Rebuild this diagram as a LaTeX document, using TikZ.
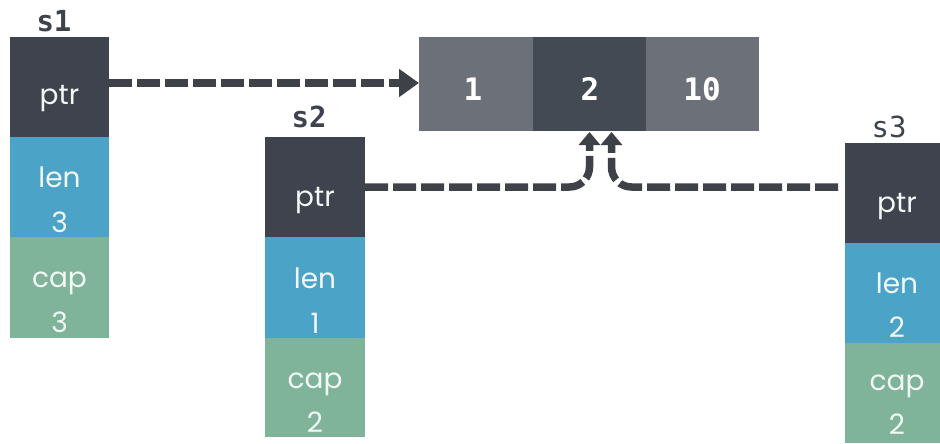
\documentclass[tikz,border=0pt]{standalone}
\usepackage{fontspec}
\setmainfont{Poppins}
\setmonofont{DejaVu Sans Mono}
\usetikzlibrary{arrows.meta}
\definecolor{ptrc}{HTML}{3E434D}
\definecolor{lenc}{HTML}{4BA3C7}
\definecolor{capc}{HTML}{7FB39A}
\definecolor{arrc}{HTML}{6B7079}
\definecolor{midc}{HTML}{444A54}
\definecolor{linec}{HTML}{3E4248}
\definecolor{txtc}{HTML}{F2F8F5}
\tikzset{
  cell/.style={rectangle, inner sep=0pt, outer sep=0pt, minimum width=100pt, minimum height=100pt, anchor=north west},
  lbl/.style={inner sep=0pt, anchor=base, text=txtc, font=\fontsize{28}{30}\selectfont},
  num/.style={inner sep=0pt, anchor=base, text=white, font=\ttfamily\bfseries\fontsize{31}{33}\selectfont},
  sname/.style={inner sep=0pt, anchor=base, text=ptrc, font=\ttfamily\bfseries\fontsize{29}{30}\selectfont},
  dl/.style={draw=linec, line width=7.5pt, dash pattern=on 23pt off 5pt},
}
\begin{document}
\begin{tikzpicture}[x=1pt,y=-1pt]
\useasboundingbox (0,0) rectangle (940,444);
\clip (0,0) rectangle (940,444);
\fill[white] (0,0) rectangle (940,444);
% array
\node[cell, fill=arrc, minimum width=114pt, minimum height=94pt] (arr1) at (419,37) {};
\node[cell, fill=midc, minimum width=113pt, minimum height=94pt] (arr2) at (533,37) {};
\node[cell, fill=arrc, minimum width=113pt, minimum height=94pt] (arr3) at (646,37) {};
\node[num] (n1) at (473,100) {1};
\node[num] (n2) at (590,100) {2};
\node[num] (n3) at (702,100) {10};
% s1
\node[sname] (l1) at (54,32) {s1};
\node[cell, fill=ptrc, minimum width=99pt] (s1p) at (10,37) {};
\node[cell, fill=lenc, minimum width=99pt] (s1l) at (10,137) {};
\node[cell, fill=capc, minimum width=99pt, minimum height=101pt] (s1c) at (10,237) {};
\node[lbl] (s1pt) at (59.5,104) {ptr};
\node[lbl] (s1lt) at (59.5,187) {len};
\node[lbl] (s1lv) at (59.5,232) {3};
\node[lbl] (s1ct) at (59.5,287) {cap};
\node[lbl] (s1cv) at (59.5,332) {3};
% s2
\node[sname] (l2) at (309,128) {s2};
\node[cell, fill=ptrc] (s2p) at (265,137) {};
\node[cell, fill=lenc, minimum height=101pt] (s2l) at (265,237) {};
\node[cell, fill=capc, minimum height=99pt] (s2c) at (265,338) {};
\node[lbl] (s2pt) at (315,206) {ptr};
\node[lbl] (s2lt) at (315,288) {len};
\node[lbl] (s2lv) at (315,333) {1};
\node[lbl] (s2ct) at (315,388) {cap};
\node[lbl] (s2cv) at (315,432) {2};
% s3
\node[sname, font=\ttfamily\fontsize{29}{30}\selectfont] (l3) at (889,137) {s3};
\node[cell, fill=ptrc] (s3p) at (845,143) {};
\node[cell, fill=lenc] (s3l) at (845,243) {};
\node[cell, fill=capc] (s3c) at (845,343) {};
\node[lbl] (s3pt) at (897,212) {ptr};
\node[lbl] (s3lt) at (897,293) {len};
\node[lbl] (s3lv) at (897,337) {2};
\node[lbl] (s3ct) at (897,390) {cap};
\node[lbl] (s3cv) at (897,434) {2};
% pointers
\coordinate (tipA) at ([yshift=-1pt]arr2.south);
\coordinate (tipB) at ([xshift=22pt,yshift=-1pt]arr2.south);
\draw[dl, -{Triangle[length=20pt,width=27pt]}] (s1p.east |- 0,83) -- (arr1.west |- 0,83);
\draw[dl, rounded corners=20pt, -{Triangle[length=13pt,width=21pt]}] (s2p.east) -| (tipA);
\draw[dl, rounded corners=20pt, -{Triangle[length=13pt,width=21pt]}] ([xshift=-7pt]s3p.west |- s2p.east) -| (tipB);
\end{tikzpicture}
\end{document}
